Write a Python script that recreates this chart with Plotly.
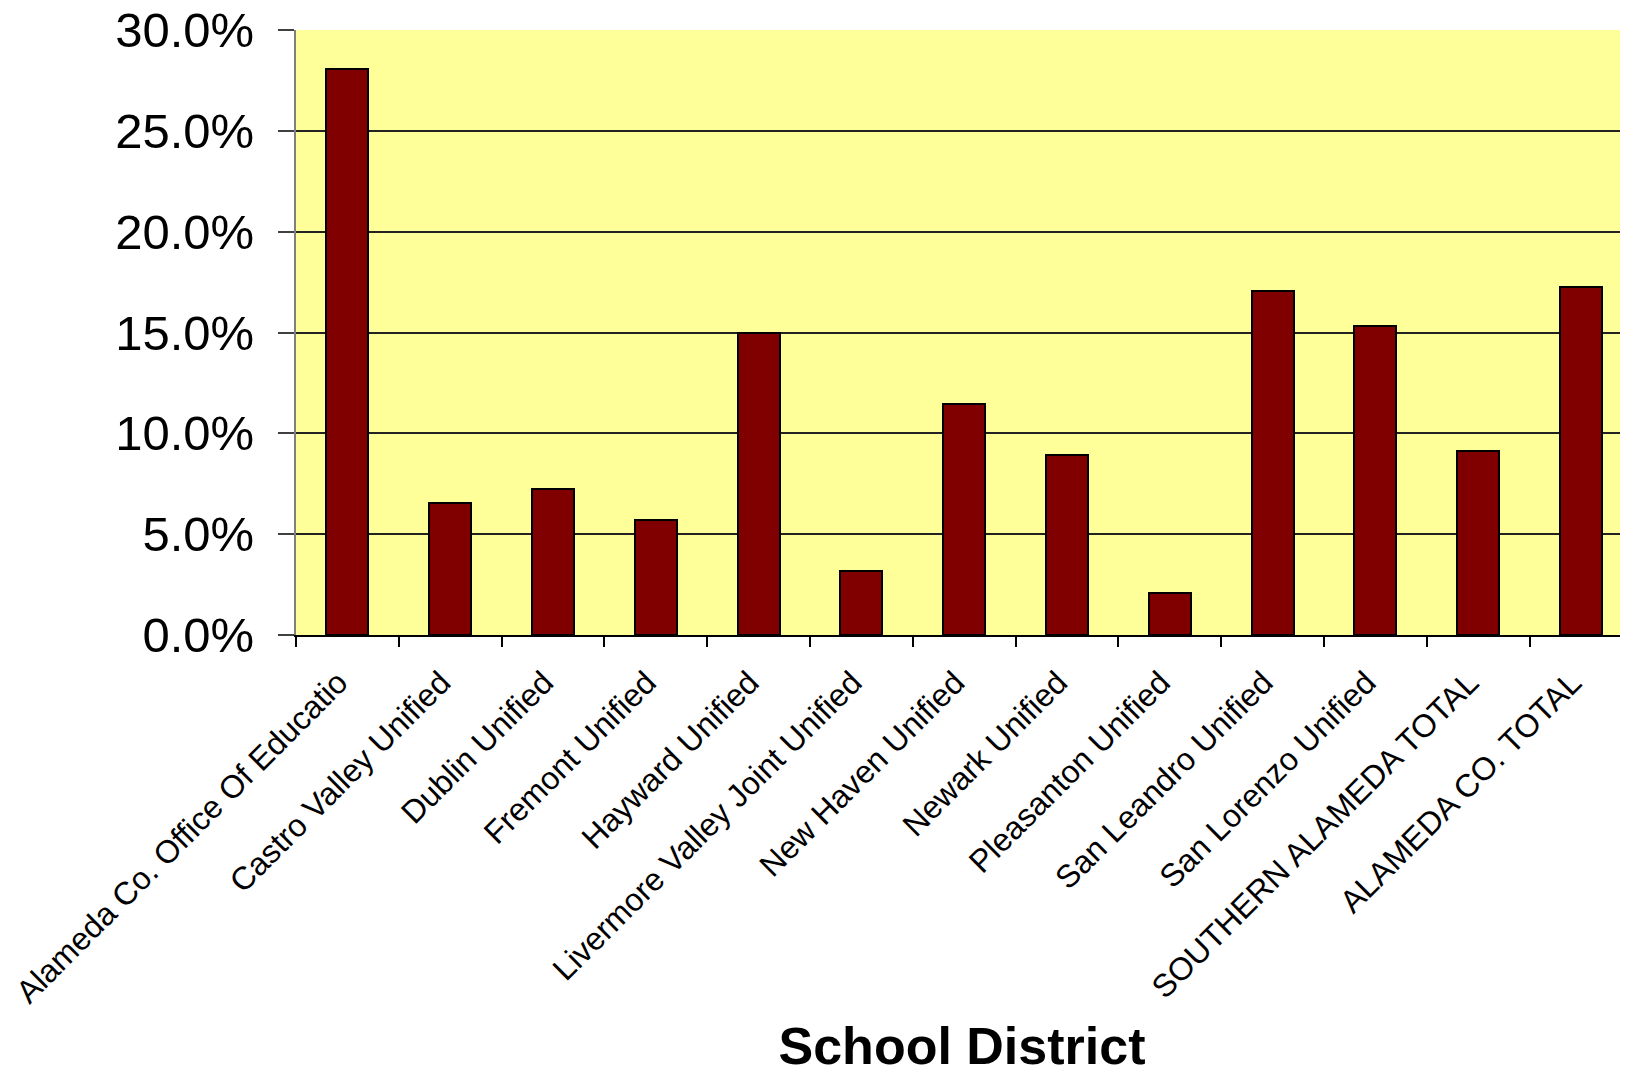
import plotly.graph_objects as go

districts = [
    "Alameda Co. Office Of Educatio",
    "Castro Valley Unified",
    "Dublin Unified",
    "Fremont Unified",
    "Hayward Unified",
    "Livermore Valley Joint Unified",
    "New Haven Unified",
    "Newark Unified",
    "Pleasanton Unified",
    "San Leandro Unified",
    "San Lorenzo Unified",
    "SOUTHERN ALAMEDA TOTAL",
    "ALAMEDA CO. TOTAL",
]
rates = [0.2806, 0.0656, 0.0724, 0.0568, 0.1500, 0.0315, 0.1147,
         0.0894, 0.0208, 0.1708, 0.1530, 0.0914, 0.1728]

y_ticks = [0.0, 0.05, 0.10, 0.15, 0.20, 0.25, 0.30]

FONT = "Arial, Liberation Sans, sans-serif"

fig = go.Figure(go.Bar(
    x=districts,
    y=rates,
    width=0.41,
    marker=dict(color="#800000", line=dict(color="#000000", width=2)),
))

fig.update_layout(
    width=1620,
    height=1067,
    margin=dict(l=288, r=0, t=22, b=440, autoexpand=False),
    paper_bgcolor="#ffffff",
    plot_bgcolor="#ffff99",
    font=dict(family=FONT, color="#000000"),
    showlegend=False,
    bargap=0,
)

fig.update_xaxes(
    type="category",
    range=[-0.5, 12.457],
    tickangle=-45,
    tickfont=dict(size=32, family=FONT, color="#000000"),
    showgrid=False,
    showline=True,
    linecolor="#000000",
    linewidth=2,
    ticks="outside",
    tickson="boundaries",
    ticklen=10,
    tickcolor="#000000",
    tickwidth=1.5,
    ticklabelstandoff=14,
    ticklabelshift=-9,
    ticklabeloverflow="allow",
    title=dict(text="<b>School District</b>", font=dict(size=52, family=FONT, color="#000000"), standoff=50),
    automargin=False,
)

fig.update_yaxes(
    range=[0, 0.30],
    tickvals=y_ticks,
    tickformat=".1%",
    tickfont=dict(size=49, family=FONT, color="#000000"),
    showgrid=True,
    gridcolor="#222222",
    gridwidth=1.5,
    showline=True,
    linecolor="#808080",
    linewidth=2,
    ticks="outside",
    ticklen=16,
    tickcolor="#404040",
    tickwidth=1.5,
    ticklabelstandoff=14,
    ticklabeloverflow="allow",
    zeroline=False,
    automargin=False,
)

fig.write_html("out.html")
